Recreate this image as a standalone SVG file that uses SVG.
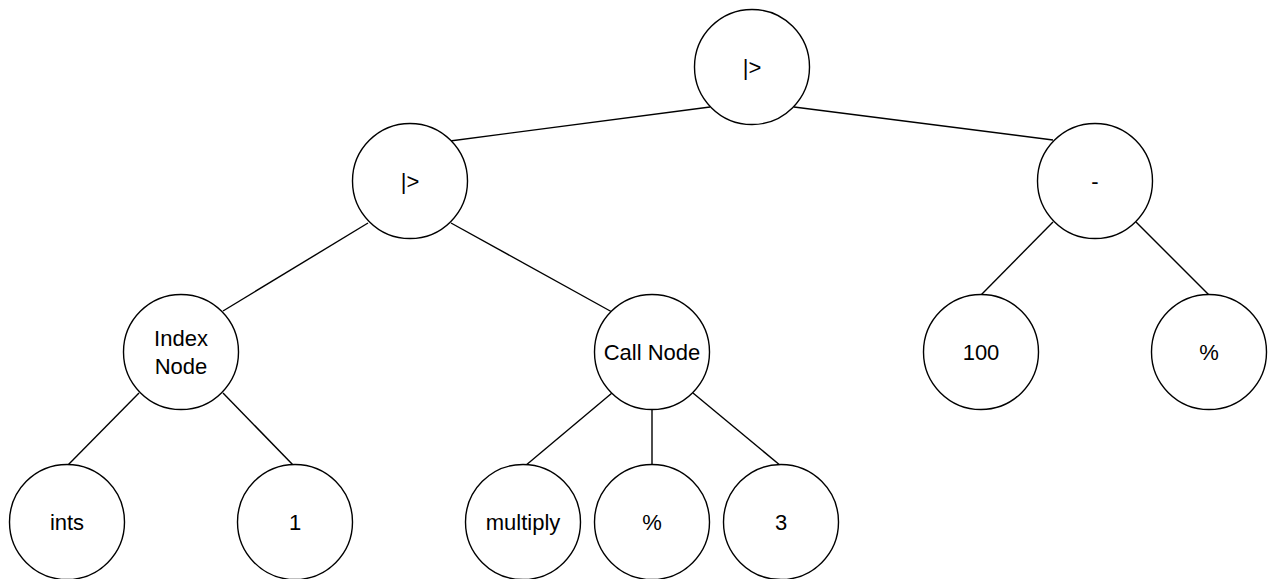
<svg xmlns="http://www.w3.org/2000/svg" width="1275" height="579" viewBox="0 0 1275 579">
<style>
.n{fill:#fff;stroke:#000;stroke-width:1.4}
.t{font-family:"Liberation Sans",Arial,sans-serif;font-size:22px;fill:#000;text-anchor:middle}
.e{stroke:#000;stroke-width:1.4;fill:none}
</style>
<rect width="1275" height="579" fill="#fff"/>
<g id="connectors">
<line class="e" x1="710" y1="107" x2="450" y2="141"/>
<line class="e" x1="794" y1="107" x2="1053" y2="140"/>
<line class="e" x1="368" y1="223" x2="223" y2="311"/>
<line class="e" x1="451" y1="223" x2="612" y2="312"/>
<line class="e" x1="1053" y1="222" x2="981" y2="295"/>
<line class="e" x1="1136" y1="222" x2="1209" y2="295"/>
<line class="e" x1="139" y1="393" x2="67" y2="466"/>
<line class="e" x1="223" y1="393" x2="294" y2="466"/>
<line class="e" x1="612" y1="393" x2="525" y2="466"/>
<line class="e" x1="652" y1="410" x2="652" y2="466"/>
<line class="e" x1="693" y1="393" x2="781" y2="466"/>
</g>
<g id="root"><circle class="n" cx="752" cy="67" r="57.5"/><text class="t" x="752" y="75">|&gt;</text></g>
<g id="pipe2"><circle class="n" cx="410" cy="181" r="57.5"/><text class="t" x="410" y="189">|&gt;</text></g>
<g id="minus"><circle class="n" cx="1095" cy="181" r="57.5"/><text class="t" x="1095" y="189">-</text></g>
<g id="index"><circle class="n" cx="181" cy="352" r="57.5"/><text class="t" x="181" y="346">Index</text><text class="t" x="181" y="374">Node</text></g>
<g id="call"><circle class="n" cx="652" cy="352" r="57.5"/><text class="t" x="652" y="360">Call Node</text></g>
<g id="n100"><circle class="n" cx="981" cy="352" r="57.5"/><text class="t" x="981" y="360">100</text></g>
<g id="pct1"><circle class="n" cx="1209" cy="352" r="57.5"/><text class="t" x="1209" y="360">%</text></g>
<g id="ints"><circle class="n" cx="67" cy="522" r="57.5"/><text class="t" x="67" y="530">ints</text></g>
<g id="one"><circle class="n" cx="295" cy="522" r="57.5"/><text class="t" x="295" y="530">1</text></g>
<g id="multiply"><circle class="n" cx="523" cy="522" r="57.5"/><text class="t" x="523" y="530">multiply</text></g>
<g id="pct2"><circle class="n" cx="652" cy="522" r="57.5"/><text class="t" x="652" y="530">%</text></g>
<g id="three"><circle class="n" cx="781" cy="522" r="57.5"/><text class="t" x="781" y="530">3</text></g>
</svg>
